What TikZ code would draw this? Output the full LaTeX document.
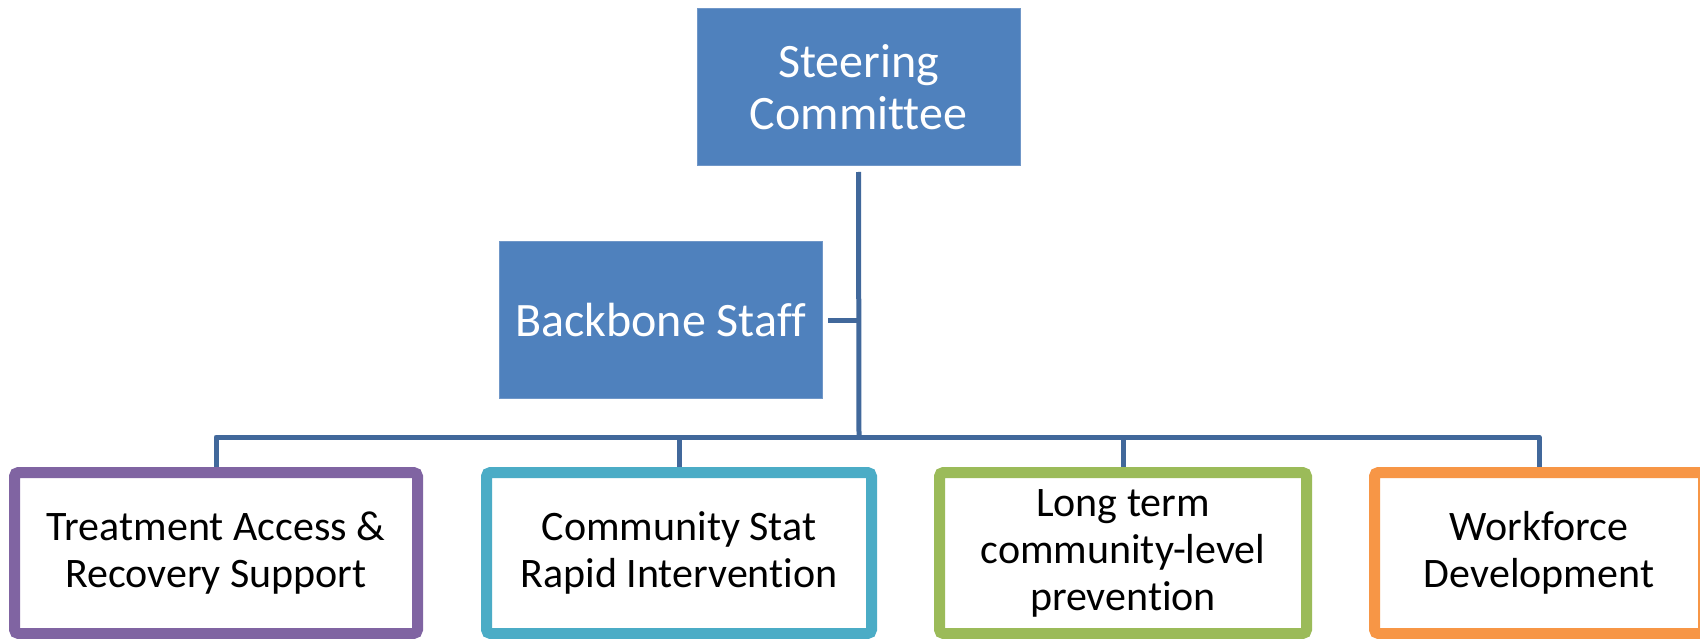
\documentclass[tikz,border=0pt]{standalone}
\usepackage{fontspec}
\setmainfont{Carlito}[Ligatures=NoCommon]
\usetikzlibrary{positioning}

\definecolor{boardblue}{HTML}{4F81BD}
\definecolor{boardedge}{HTML}{7097C8}
\definecolor{linkblue}{HTML}{41689B}
\definecolor{teampurple}{HTML}{8064A2}
\definecolor{teamcyan}{HTML}{4BACC6}
\definecolor{teamgreen}{HTML}{9BBB59}
\definecolor{teamorange}{HTML}{F79646}

\begin{document}
\begin{tikzpicture}[x=1pt,y=-1pt,
    board/.style={fill=boardblue,draw=boardedge,line width=1pt,text=white,
      align=center,inner sep=0pt,outer sep=6pt,minimum width=323pt,minimum height=157pt,
      font=\fontsize{48}{52}\selectfont},
    team/.style={draw=#1,fill=white,line width=11pt,rounded corners=4pt,align=center,
      inner sep=0pt,minimum height=161pt,font=\fontsize{42}{47}\selectfont},
    link/.style={draw=linkblue,line width=5pt,line join=round}]

    \useasboundingbox (0,0) rectangle (1700,639);

    % Top level
    \node[board] (steer) at (858.5,87.5) {Steering\\Committee};
    \node[board] (staff) at (660.5,320) {Backbone Staff};

    % Work groups
    \node[team=teampurple,minimum width=403pt] (treat) at (216,553)
        {Treatment Access \&\\Recovery Support};
    \node[team=teamcyan,minimum width=385pt] (stat) at (679,553)
        {Community Stat\\Rapid Intervention};
    \node[team=teamgreen,minimum width=367pt] (prev) at (1123,553)
        {Long term\\community-level\\prevention};
    \node[team=teamorange,minimum width=329pt] (work) at (1539,553)
        {Workforce\\Development};

    % Connectors
    \coordinate (hub) at (859,437);
    \draw[link] (steer.south) -- (hub);
    \draw[link] (staff.east) -- (staff.east -| hub);
    \draw[link] (treat.north) |- (hub) -| (work.north);
    \draw[link] (stat.north) -- (stat.north |- hub);
    \draw[link] (prev.north) -- (prev.north |- hub);

\end{tikzpicture}
\end{document}
